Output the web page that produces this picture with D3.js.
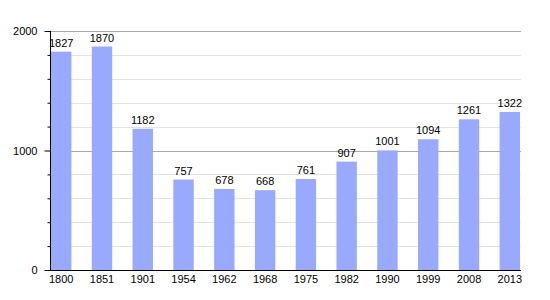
<!DOCTYPE html>
<html>
<head>
<meta charset="utf-8">
<script src="https://cdn.jsdelivr.net/npm/d3@7"></script>
<style>
  body { margin: 0; background: #fff; }
  text { font-family: "Liberation Sans", Arial, sans-serif; font-size: 11px; fill: #000; }
</style>
</head>
<body>
<svg width="550" height="300"></svg>
<script>
// data
var years = ["1800", "1851", "1901", "1954", "1962", "1968", "1975", "1982", "1990", "1999", "2008", "2013"];
var population = [1827, 1870, 1182, 757, 678, 668, 761, 907, 1001, 1094, 1261, 1322];
var majorTicks = [0, 1000, 2000];
var minorTicks = [200, 400, 600, 800, 1200, 1400, 1600, 1800];

// plot area (note: "top" is a reserved window global, so use plotTop)
var svg = d3.select("svg"),
    plotLeft = 50, plotRight = 521, plotTop = 31, plotBottom = 270;

var x = d3.scaleBand().domain(years).range([plotLeft, plotRight]).paddingInner(0.5).paddingOuter(0.025),
    y = d3.scaleLinear().domain([0, 2000]).range([plotBottom, plotTop]);

// grid
svg.append("g").selectAll("line")
    .data(minorTicks)
    .enter().append("line")
    .attr("x1", plotLeft).attr("x2", plotRight)
    .attr("y1", function(d) { return Math.round(y(d)) + 0.5; })
    .attr("y2", function(d) { return Math.round(y(d)) + 0.5; })
    .attr("stroke", "#e3e3e3");

svg.append("g").selectAll("line")
    .data(majorTicks.slice(1))
    .enter().append("line")
    .attr("x1", plotLeft).attr("x2", plotRight)
    .attr("y1", function(d) { return Math.round(y(d)) + 0.5; })
    .attr("y2", function(d) { return Math.round(y(d)) + 0.5; })
    .attr("stroke", "#a8a8a8");

// bars
svg.append("g").selectAll("rect")
    .data(population)
    .enter().append("rect")
    .attr("x", function(d, i) { return x(years[i]); })
    .attr("y", function(d) { return y(d); })
    .attr("width", x.bandwidth())
    .attr("height", function(d) { return y(0) - y(d); })
    .attr("fill", "#99a9fb");

svg.append("g").selectAll("text")
    .data(population)
    .enter().append("text")
    .attr("x", function(d, i) { return x(years[i]) + x.bandwidth() / 2; })
    .attr("y", function(d) { return y(d) - 5; })
    .attr("text-anchor", "middle")
    .text(function(d) { return d; });

// y axis
var yAxis = svg.append("g")
    .attr("transform", "translate(" + (plotLeft + 0.5) + ",0)")
    .call(d3.axisLeft(y).tickValues(majorTicks).tickSize(6).tickPadding(7).tickFormat(d3.format("d")));
yAxis.select(".domain").attr("stroke", "#000").attr("d", "M0," + plotTop + "V" + (plotBottom + 0.5));
yAxis.selectAll("text").style("font-size", "11px").attr("fill", "#000");

svg.append("g")
    .attr("transform", "translate(" + (plotLeft + 0.5) + ",0)")
    .call(d3.axisLeft(y).tickValues(minorTicks).tickSize(3).tickFormat(""))
    .select(".domain").remove();

// x axis
var xAxis = svg.append("g")
    .attr("transform", "translate(0," + (plotBottom + 0.5) + ")")
    .call(d3.axisBottom(x).tickSize(0).tickPadding(5));
xAxis.select(".domain").attr("stroke", "#000").attr("d", "M" + plotLeft + ",0H" + plotRight);
xAxis.selectAll("text").style("font-size", "11px").attr("fill", "#000");
</script>
</body>
</html>
